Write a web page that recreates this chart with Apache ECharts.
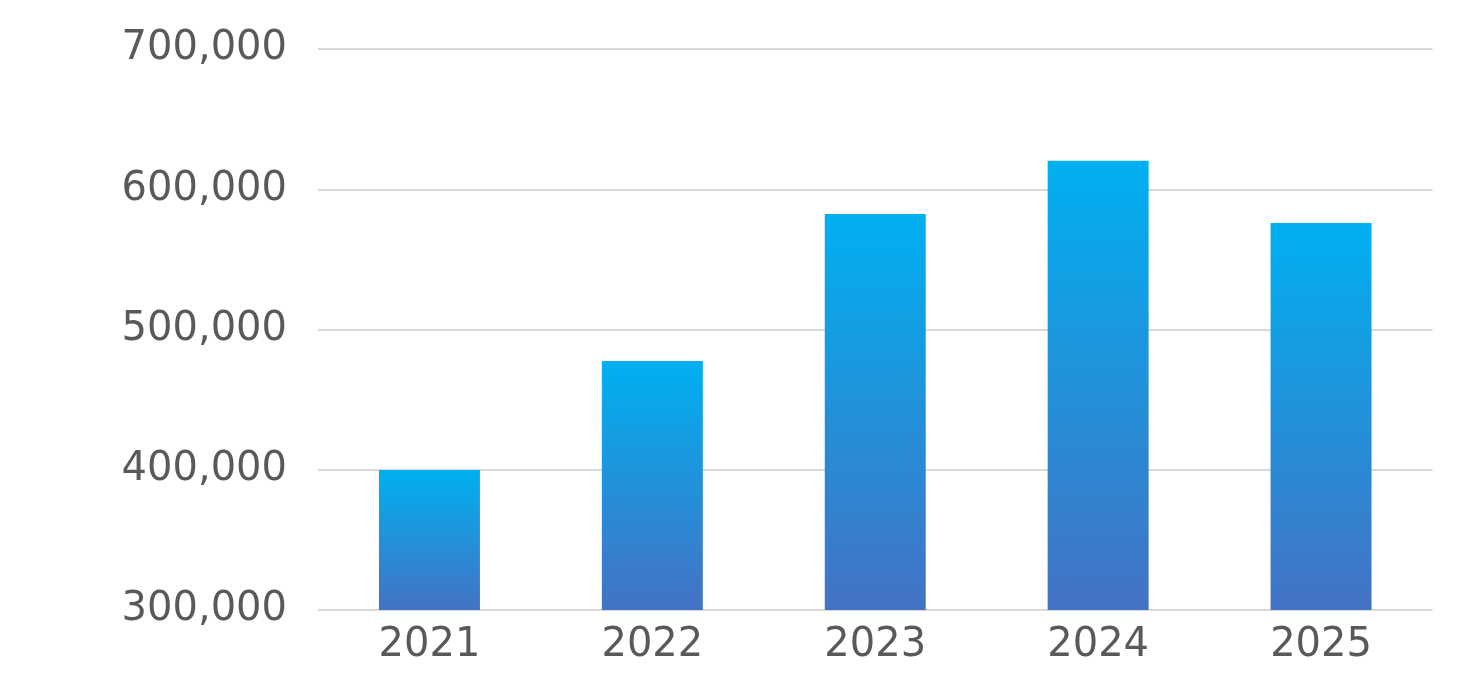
<!DOCTYPE html>
<html>
<head>
<meta charset="utf-8">
<script src="https://cdn.jsdelivr.net/npm/echarts@6/dist/echarts.min.js"></script>
<style>
html,body{margin:0;padding:0;background:#fff;}
#chart{width:1460px;height:696px;}
</style>
</head>
<body>
<div id="chart"></div>
<script>
const categories = ['2021', '2022', '2023', '2024', '2025'];
const values = [399800, 477600, 582400, 620300, 576000];
const yTicks = { min: 300000, max: 700000, interval: 100000 };

const chart = echarts.init(document.getElementById('chart'), null, { renderer: 'canvas' });
const fontFamily = '"DejaVu Sans", sans-serif';
chart.setOption({
  animation: false,
  backgroundColor: '#ffffff',
  grid: { left: 318, right: 27.5, top: 49, bottom: 86, containLabel: false },
  xAxis: {
    type: 'category',
    data: categories,
    axisLine: { show: false },
    axisTick: { show: false },
    axisLabel: { color: '#595959', fontSize: 40, fontFamily: fontFamily, margin: 16 }
  },
  yAxis: {
    type: 'value',
    min: yTicks.min, max: yTicks.max, interval: yTicks.interval,
    axisLine: { show: false },
    axisTick: { show: false },
    splitLine: { lineStyle: { color: '#d9d9d9', width: 2 } },
    axisLabel: {
      color: '#595959', fontSize: 40, fontFamily: fontFamily, margin: 31,
      formatter: v => v.toLocaleString('en-US')
    }
  },
  series: [{
    type: 'bar',
    data: values,
    barWidth: '45.3%',
    itemStyle: {
      color: new echarts.graphic.LinearGradient(0, 0, 0, 1, [
        { offset: 0, color: '#00b0f0' },
        { offset: 1, color: '#4472c4' }
      ])
    }
  }]
});
</script>
</body>
</html>
